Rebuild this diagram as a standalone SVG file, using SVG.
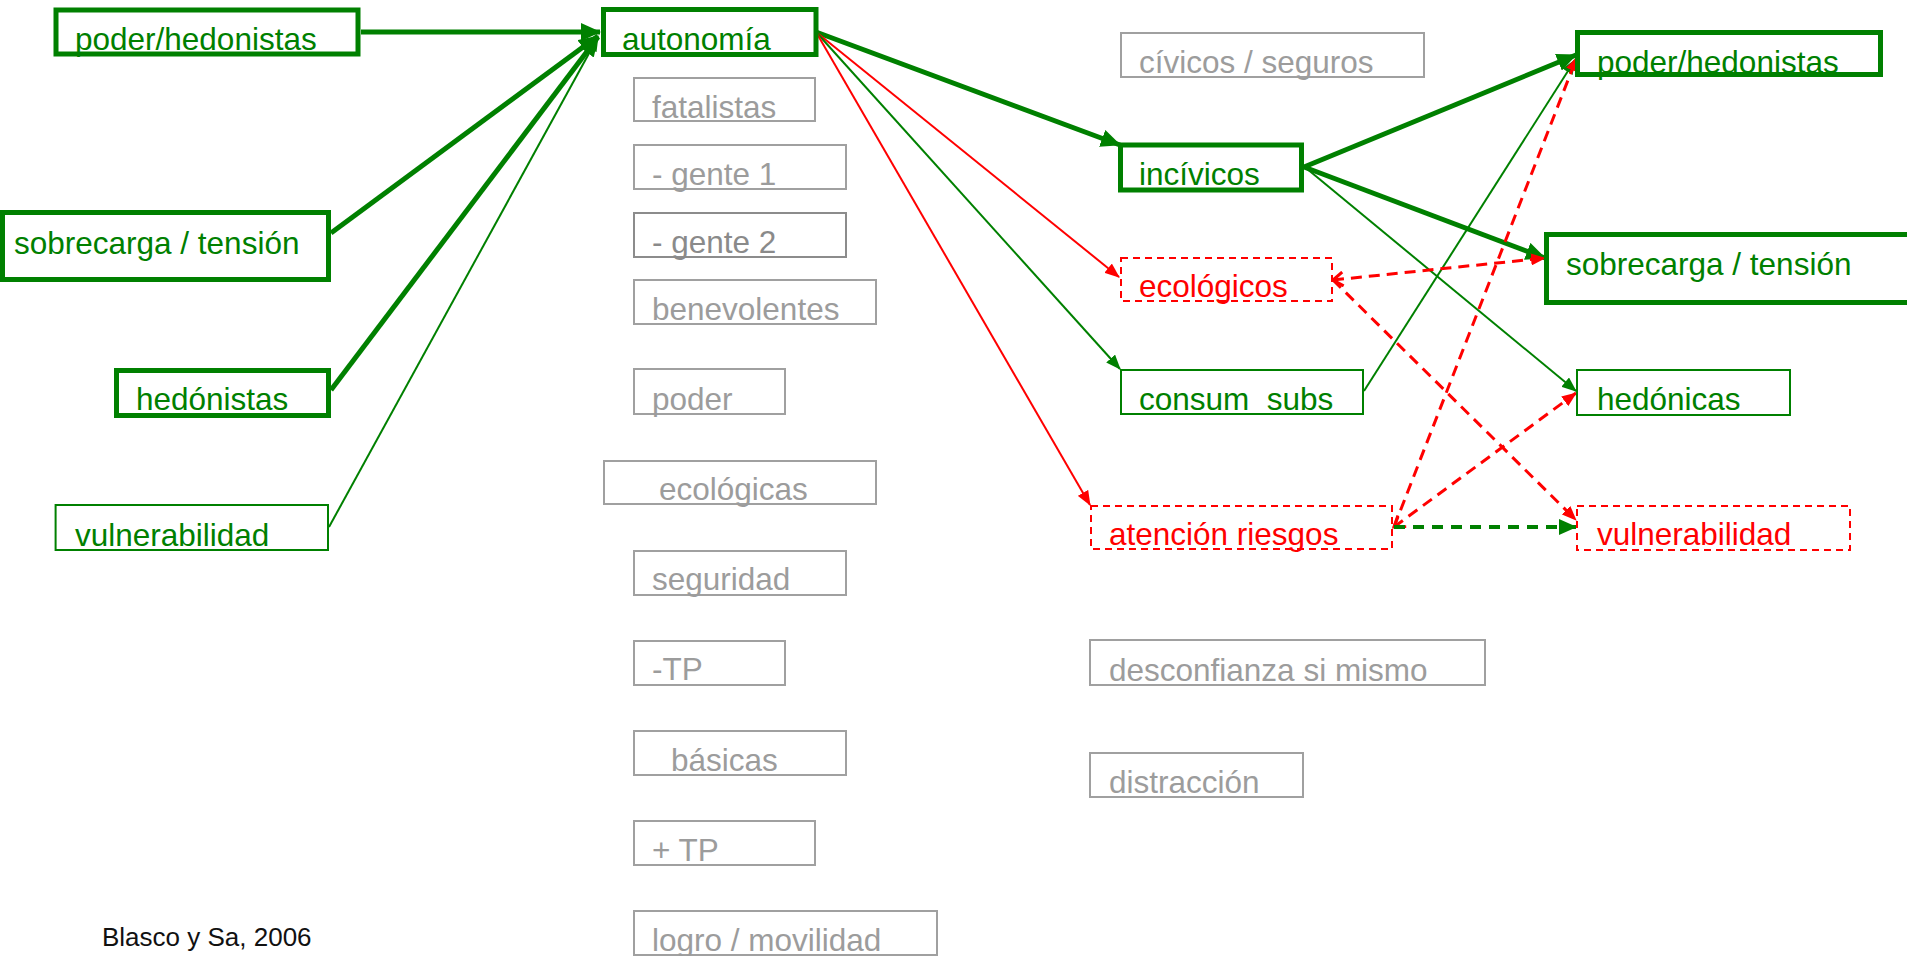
<svg xmlns="http://www.w3.org/2000/svg" width="1907" height="956" viewBox="0 0 1907 956">
<style>
text{font-family:"Liberation Sans",Arial,sans-serif;font-size:31.5px}
.tg{fill:#008000}.tr{fill:#ff0000}.tx{fill:#9c9c9c}.tx2{fill:#8a8a8a}
.bt{fill:#fff;stroke:#008000;stroke-width:5}
.bn{fill:#fff;stroke:#008000;stroke-width:2}
.bd{fill:#fff;stroke:#ff0000;stroke-width:2;stroke-dasharray:7 5}
.bg{fill:#fff;stroke:#a0a0a0;stroke-width:2}
.bg2{fill:#fff;stroke:#8c8c8c;stroke-width:2}
.ct{fill:none;stroke:#008000;stroke-width:5;marker-end:url(#ah)}
.cn{fill:none;stroke:#008000;stroke-width:2;marker-end:url(#ag)}
.cr{fill:none;stroke:#ff0000;stroke-width:2;marker-end:url(#ar)}
.crd{fill:none;stroke:#ff0000;stroke-width:3;stroke-dasharray:11 7;marker-end:url(#ar)}
.cgd{fill:none;stroke:#008000;stroke-width:4;stroke-dasharray:11 8;marker-end:url(#agd)}
</style>
<defs>
<marker id="ah" markerUnits="userSpaceOnUse" markerWidth="20" markerHeight="18" refX="19" refY="9" orient="auto"><path d="M0,0 L20,9 L0,18 z" fill="#008000"/></marker>
<marker id="ag" markerUnits="userSpaceOnUse" markerWidth="15" markerHeight="12" refX="14" refY="6" orient="auto"><path d="M0,0 L15,6 L0,12 z" fill="#008000"/></marker>
<marker id="agd" markerUnits="userSpaceOnUse" markerWidth="18" markerHeight="16" refX="17" refY="8" orient="auto"><path d="M0,0 L18,8 L0,16 z" fill="#008000"/></marker>
<marker id="ar" markerUnits="userSpaceOnUse" markerWidth="15" markerHeight="12" refX="14" refY="6" orient="auto"><path d="M0,0 L15,6 L0,12 z" fill="#ff0000"/></marker>
<marker id="cv" markerUnits="userSpaceOnUse" markerWidth="16" markerHeight="16" refX="13" refY="8" orient="auto-start-reverse"><path d="M3,1 L13,8 L3,15" fill="none" stroke="#ff0000" stroke-width="3"/></marker>
</defs>
<g id="connectors">
<path class="ct" d="M361,32 L600,32"/>
<path class="ct" d="M331,233 L598,36"/>
<path class="ct" d="M331,390 L598,37"/>
<path class="cn" d="M329,527 L598,37"/>
<path class="ct" d="M816,32 L1120,145"/>
<path class="cr" d="M816,32 L1119,277"/>
<path class="cn" d="M816,32 L1120,369"/>
<path class="cr" d="M816,32 L1090,505"/>
<path class="ct" d="M1304,167 L1576,55"/>
<path class="ct" d="M1304,167 L1545,258"/>
<path class="cn" d="M1306,168 L1576,391"/>
<path class="cn" d="M1364,391 L1575,60"/>
<path class="crd" style="marker-start:url(#cv)" d="M1333,280 L1545,258"/>
<path class="crd" d="M1333,280 L1576,520"/>
<path class="crd" d="M1394,527 L1577,57"/>
<path class="crd" style="marker-start:url(#cv)" d="M1394,527 L1576,393"/>
<path class="cgd" d="M1394,527 L1576,527"/>
</g>
<g id="n-poder-hed-l"><rect class="bt" x="56" y="10" width="302" height="44"/><text class="tg" x="75" y="50">poder/hedonistas</text></g>
<g id="n-sobrecarga-l"><rect class="bt" x="2.5" y="212.5" width="326" height="67"/><text class="tg" x="14" y="254">sobrecarga / tensión</text></g>
<g id="n-hedonistas"><rect class="bt" x="116.5" y="370.5" width="212" height="45"/><text class="tg" x="136" y="410">hedónistas</text></g>
<g id="n-vulnerabilidad-l"><rect class="bn" x="55.6" y="505" width="272.4" height="45"/><text class="tg" x="75" y="546">vulnerabilidad</text></g>
<g id="n-autonomia"><rect class="bt" x="603.5" y="9.5" width="212.5" height="45"/><text class="tg" x="622" y="50">autonomía</text></g>
<g id="n-fatalistas"><rect class="bg" x="634" y="78" width="181" height="43"/><text class="tx" x="652" y="118">fatalistas</text></g>
<g id="n-gente1"><rect class="bg" x="634" y="145" width="212" height="44"/><text class="tx" x="652" y="185">- gente 1</text></g>
<g id="n-gente2"><rect class="bg2" x="634" y="213" width="212" height="44"/><text class="tx2" x="652" y="253">- gente 2</text></g>
<g id="n-benevolentes"><rect class="bg" x="634" y="280" width="242" height="44"/><text class="tx" x="652" y="320">benevolentes</text></g>
<g id="n-poder"><rect class="bg" x="634" y="369" width="151" height="45"/><text class="tx" x="652" y="410">poder</text></g>
<g id="n-ecologicas"><rect class="bg" x="604" y="461" width="272" height="43"/><text class="tx" x="659" y="500">ecológicas</text></g>
<g id="n-seguridad"><rect class="bg" x="634" y="551" width="212" height="44"/><text class="tx" x="652" y="590">seguridad</text></g>
<g id="n-menos-tp"><rect class="bg" x="634" y="641" width="151" height="44"/><text class="tx" x="652" y="680">-TP</text></g>
<g id="n-basicas"><rect class="bg" x="634" y="731" width="212" height="44"/><text class="tx" x="671" y="771">básicas</text></g>
<g id="n-mas-tp"><rect class="bg" x="634" y="821" width="181" height="44"/><text class="tx" x="652" y="861">+ TP</text></g>
<g id="n-logro"><rect class="bg" x="634" y="911" width="303" height="44"/><text class="tx" x="652" y="951">logro / movilidad</text></g>
<g id="n-civicos"><rect class="bg" x="1121" y="33" width="303" height="44"/><text class="tx" x="1139" y="73">cívicos / seguros</text></g>
<g id="n-incivicos"><rect class="bt" x="1120.5" y="145" width="181" height="45"/><text class="tg" x="1139" y="185">incívicos</text></g>
<g id="n-ecologicos"><rect class="bd" x="1121" y="258" width="211" height="43"/><text class="tr" x="1139" y="297">ecológicos</text></g>
<g id="n-consum"><rect class="bn" x="1121" y="370" width="242" height="44"/><text class="tg" x="1139" y="410" xml:space="preserve">consum  subs</text></g>
<g id="n-atencion"><rect class="bd" x="1091" y="506" width="301" height="43"/><text class="tr" x="1109" y="545">atención riesgos</text></g>
<g id="n-desconfianza"><rect class="bg" x="1090" y="640" width="395" height="45"/><text class="tx" x="1109" y="681">desconfianza si mismo</text></g>
<g id="n-distraccion"><rect class="bg" x="1090" y="753" width="213" height="44"/><text class="tx" x="1109" y="793">distracción</text></g>
<g id="n-poder-hed-r"><rect class="bt" x="1577.5" y="32.5" width="303" height="42"/><text class="tg" x="1597" y="73">poder/hedonistas</text></g>
<g id="n-sobrecarga-r"><rect class="bt" x="1546.5" y="234.5" width="370" height="68"/><text class="tg" x="1566" y="275">sobrecarga / tensión</text></g>
<g id="n-hedonicas"><rect class="bn" x="1577" y="370" width="213" height="45"/><text class="tg" x="1597" y="410">hedónicas</text></g>
<g id="n-vulnerabilidad-r"><rect class="bd" x="1577" y="506" width="273" height="44"/><text class="tr" x="1597" y="545">vulnerabilidad</text></g>
<text x="102" y="946" style="font-size:26px;fill:#111">Blasco y Sa, 2006</text>
</svg>
